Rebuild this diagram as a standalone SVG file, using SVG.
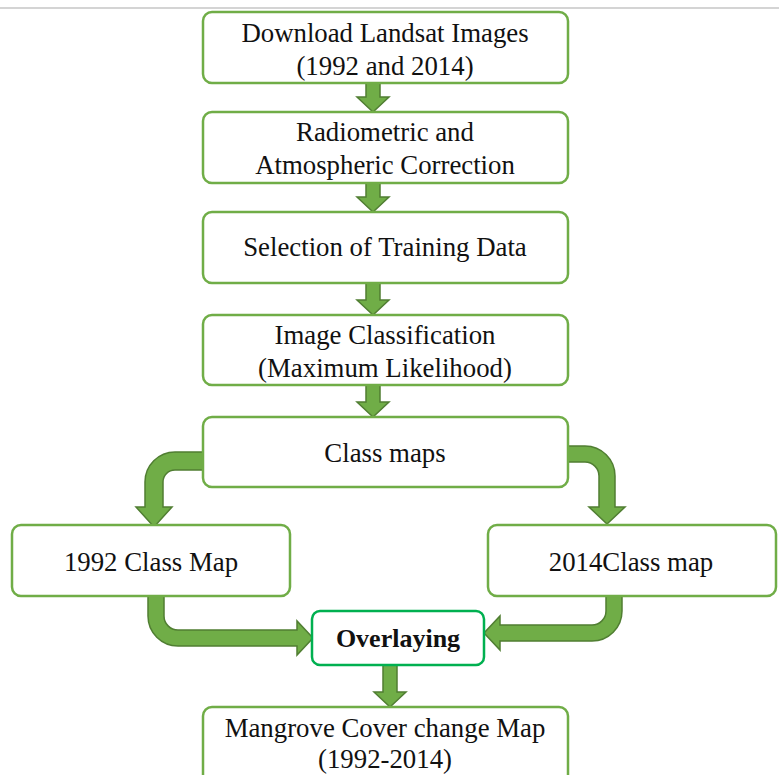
<svg xmlns="http://www.w3.org/2000/svg" width="779" height="775" viewBox="0 0 779 775">
<style>
.box{fill:#fff;stroke:#70ad47;stroke-width:2.5}
.ov{fill:#fff;stroke:#00b050;stroke-width:2.5}
.arr{fill:#70ad47;stroke:#507e32;stroke-width:1.5;stroke-linejoin:miter}
text{font-family:"Liberation Serif","Times New Roman",serif;font-size:26.8px;fill:#111;text-anchor:middle}
.b{font-weight:bold;font-size:26px}
</style>
<rect x="0" y="0" width="779" height="775" fill="#fff"/>
<line x1="0" y1="8" x2="779" y2="8" stroke="#d4d4d4" stroke-width="2"/>
<g id="connectors">
<path class="arr" d="M366 82 L380 82 L380 97 L389 97 L373 112 L357 97 L366 97 Z"/>
<path class="arr" d="M366 182 L380 182 L380 197 L389 197 L373 212 L357 197 L366 197 Z"/>
<path class="arr" d="M366 282 L380 282 L380 300 L389 300 L373 315 L357 300 L366 300 Z"/>
<path class="arr" d="M366 384 L380 384 L380 402 L389 402 L373 417 L357 402 L366 402 Z"/>
<path class="arr" d="M383 664 L397 664 L397 692 L406 692 L390 707 L374 692 L383 692 Z"/>
<path class="arr" d="M205 452 L175 452 A30 30 0 0 0 145 482 L145 507 L136 507 L154 527 L172 507 L163 507 L163 482 A12 12 0 0 1 175 470 L205 470 Z"/>
<path class="arr" d="M566 446 L585 446 A30 30 0 0 1 615 476 L615 507 L625 507 L607 524 L589 507 L599 507 L599 476 A14 14 0 0 0 585 462 L566 462 Z"/>
<path class="arr" d="M148 594 L148 616 A30 30 0 0 0 178 646 L297 646 L297 655 L313 638 L297 621 L297 630 L178 630 A14 14 0 0 1 164 616 L164 594 Z"/>
<path class="arr" d="M622 594 L622 611 A30 30 0 0 1 592 641 L500 641 L500 650 L484 633 L500 616 L500 625 L592 625 A14 14 0 0 0 606 611 L606 594 Z"/>
</g>
<g id="n1"><rect class="box" x="203" y="12" width="365" height="71" rx="9"/><text x="385" y="42">Download Landsat Images</text><text x="385" y="75">(1992 and 2014)</text></g>
<g id="n2"><rect class="box" x="203" y="112" width="365" height="71" rx="9"/><text x="385" y="141">Radiometric and</text><text x="385" y="174">Atmospheric Correction</text></g>
<g id="n3"><rect class="box" x="203" y="212" width="365" height="71" rx="9"/><text x="385" y="256">Selection of Training Data</text></g>
<g id="n4"><rect class="box" x="203" y="315" width="365" height="70" rx="9"/><text x="385" y="344">Image Classification</text><text x="385" y="377">(Maximum Likelihood)</text></g>
<g id="n5"><rect class="box" x="203" y="417" width="365" height="70" rx="9"/><text x="385" y="462">Class maps</text></g>
<g id="n6"><rect class="box" x="12" y="525" width="278" height="71" rx="9"/><text x="151" y="571">1992 Class Map</text></g>
<g id="n7"><rect class="box" x="488" y="525" width="288" height="71" rx="9"/><text x="631" y="571">2014Class map</text></g>
<g id="n8"><rect class="ov" x="312" y="611" width="172" height="54" rx="8"/><text class="b" x="398" y="647">Overlaying</text></g>
<g id="n9"><rect class="box" x="203" y="707" width="365" height="80" rx="9"/><text x="385" y="737">Mangrove Cover change Map</text><text x="385" y="768">(1992-2014)</text></g>
</svg>
